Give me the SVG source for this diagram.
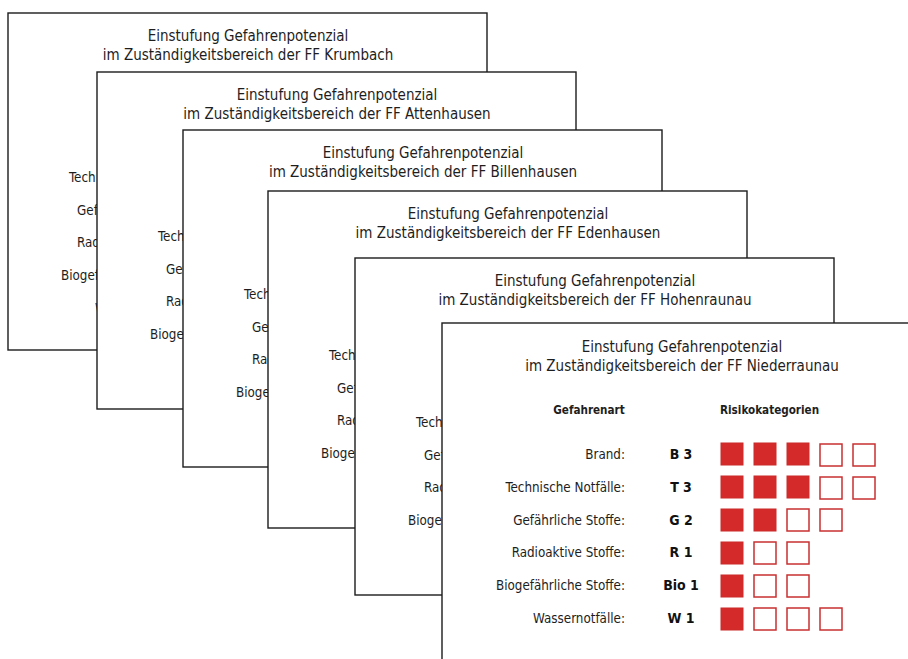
<svg xmlns="http://www.w3.org/2000/svg" width="908" height="659" viewBox="0 0 908 659">
<style>
.card{fill:#fff;stroke:#1c1c1c;stroke-width:1.4}
.t{font-family:"DejaVu Sans Condensed","DejaVu Sans",sans-serif;font-stretch:condensed;font-size:15px;fill:#1e1e1e;text-anchor:middle}
.l{font-family:"DejaVu Sans Condensed","DejaVu Sans",sans-serif;font-stretch:condensed;font-size:13.3px;fill:#1e1e1e}
.r{text-anchor:end}
.h{font-family:"DejaVu Sans Condensed","DejaVu Sans",sans-serif;font-stretch:condensed;font-size:11.6px;font-weight:bold;fill:#1e1e1e}
.c{font-family:"DejaVu Sans Condensed","DejaVu Sans",sans-serif;font-stretch:condensed;font-size:14px;font-weight:bold;fill:#111;text-anchor:middle}
.on{fill:#d52a2a;stroke:#cc2a2a;stroke-width:1}
.off{fill:#fff;stroke:#c83030;stroke-width:1.5}
</style>
<rect width="908" height="659" fill="#fff"/>

<g id="card-krumbach">
<rect class="card" x="8" y="13" width="479" height="337"/>
<text class="t" x="248" y="41">Einstufung Gefahrenpotenzial</text>
<text class="t" x="248" y="60">im Zuständigkeitsbereich der FF Krumbach</text>
<text class="l" x="69" y="182">Tech</text>
<text class="l" x="77" y="215">Gef</text>
<text class="l" x="77" y="247">Rad</text>
<text class="l" x="61" y="280">Biogef</text>
<text class="l" x="95" y="313">W</text>
</g>

<g id="card-attenhausen">
<rect class="card" x="97" y="72" width="479" height="337"/>
<text class="t" x="337" y="100">Einstufung Gefahrenpotenzial</text>
<text class="t" x="337" y="119">im Zuständigkeitsbereich der FF Attenhausen</text>
<text class="l" x="158" y="241">Tech</text>
<text class="l" x="166" y="274">Gef</text>
<text class="l" x="166" y="306">Rad</text>
<text class="l" x="150" y="339">Biogef</text>
</g>

<g id="card-billenhausen">
<rect class="card" x="183" y="130" width="479" height="337"/>
<text class="t" x="423" y="158">Einstufung Gefahrenpotenzial</text>
<text class="t" x="423" y="177">im Zuständigkeitsbereich der FF Billenhausen</text>
<text class="l" x="244" y="299">Tech</text>
<text class="l" x="252" y="332">Gef</text>
<text class="l" x="252" y="364">Rad</text>
<text class="l" x="236" y="397">Biogef</text>
</g>

<g id="card-edenhausen">
<rect class="card" x="268" y="191" width="479" height="337"/>
<text class="t" x="508" y="219">Einstufung Gefahrenpotenzial</text>
<text class="t" x="508" y="238">im Zuständigkeitsbereich der FF Edenhausen</text>
<text class="l" x="329" y="360">Tech</text>
<text class="l" x="337" y="393">Gef</text>
<text class="l" x="337" y="425">Rad</text>
<text class="l" x="321" y="458">Biogef</text>
</g>

<g id="card-hohenraunau">
<rect class="card" x="355" y="258" width="479" height="337"/>
<text class="t" x="595" y="286">Einstufung Gefahrenpotenzial</text>
<text class="t" x="595" y="305">im Zuständigkeitsbereich der FF Hohenraunau</text>
<text class="l" x="416" y="427">Tech</text>
<text class="l" x="424" y="460">Gef</text>
<text class="l" x="424" y="492">Rad</text>
<text class="l" x="408" y="525">Biogef</text>
</g>

<g id="card-niederraunau">
<rect class="card" x="442" y="323" width="479" height="337"/>
<text class="t" x="682" y="352">Einstufung Gefahrenpotenzial</text>
<text class="t" x="682" y="371">im Zuständigkeitsbereich der FF Niederraunau</text>
<text class="h" x="589" y="414" text-anchor="middle">Gefahrenart</text>
<text class="h" x="720" y="414">Risikokategorien</text>

<text class="l r" x="625" y="459">Brand:</text>
<text class="l r" x="625" y="492">Technische Notfälle:</text>
<text class="l r" x="625" y="525">Gefährliche Stoffe:</text>
<text class="l r" x="625" y="557">Radioaktive Stoffe:</text>
<text class="l r" x="625" y="590">Biogefährliche Stoffe:</text>
<text class="l r" x="625" y="623">Wassernotfälle:</text>

<text class="c" x="681" y="459">B 3</text>
<text class="c" x="681" y="492">T 3</text>
<text class="c" x="681" y="525">G 2</text>
<text class="c" x="681" y="557">R 1</text>
<text class="c" x="681" y="590">Bio 1</text>
<text class="c" x="681" y="623">W 1</text>

<rect class="on" x="721" y="443" width="22" height="22"/>
<rect class="on" x="754" y="443" width="22" height="22"/>
<rect class="on" x="787" y="443" width="22" height="22"/>
<rect class="off" x="820" y="444" width="22" height="22"/>
<rect class="off" x="853" y="444" width="22" height="22"/>

<rect class="on" x="721" y="476" width="22" height="22"/>
<rect class="on" x="754" y="476" width="22" height="22"/>
<rect class="on" x="787" y="476" width="22" height="22"/>
<rect class="off" x="820" y="477" width="22" height="22"/>
<rect class="off" x="853" y="477" width="22" height="22"/>

<rect class="on" x="721" y="509" width="22" height="22"/>
<rect class="on" x="754" y="509" width="22" height="22"/>
<rect class="off" x="787" y="509" width="22" height="22"/>
<rect class="off" x="820" y="509" width="22" height="22"/>

<rect class="on" x="721" y="542" width="22" height="22"/>
<rect class="off" x="754" y="542" width="22" height="22"/>
<rect class="off" x="787" y="542" width="22" height="22"/>

<rect class="on" x="721" y="575" width="22" height="22"/>
<rect class="off" x="754" y="575" width="22" height="22"/>
<rect class="off" x="787" y="575" width="22" height="22"/>

<rect class="on" x="721" y="608" width="22" height="22"/>
<rect class="off" x="754" y="608" width="22" height="22"/>
<rect class="off" x="787" y="608" width="22" height="22"/>
<rect class="off" x="820" y="608" width="22" height="22"/>
</g>
</svg>
